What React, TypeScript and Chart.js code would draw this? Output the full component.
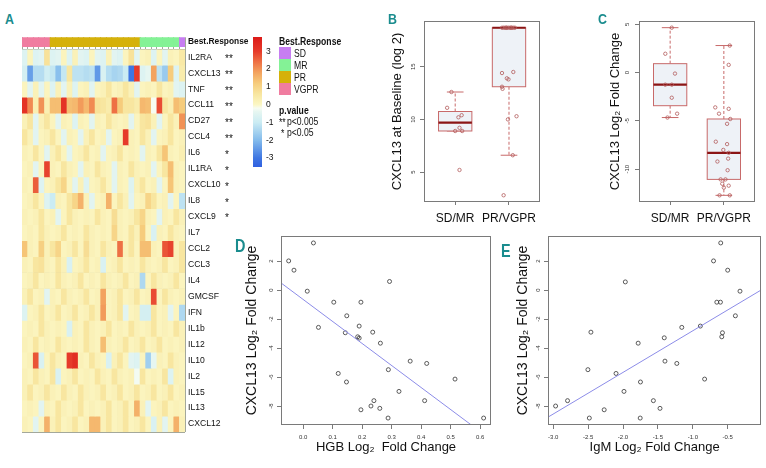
import React, { useEffect, useRef } from 'react';
import { Chart, registerables } from 'chart.js';

Chart.register(...registerables);

const SANS = "'Liberation Sans', Arial, Helvetica, sans-serif";
const TEAL = '#1a8c8e';
const FRAME = '#7a7a7a';
const GRID = '#a3a89b';
const BOX_POINT = '#b35c5c';

// ---------------- Panel A : heatmap ----------------
const cytokines = ['IL2RA', 'CXCL13', 'TNF', 'CCL11', 'CD27', 'CCL4', 'IL6', 'IL1RA', 'CXCL10', 'IL8', 'CXCL9', 'IL7',
  'CCL2', 'CCL3', 'IL4', 'GMCSF', 'IFN', 'IL1b', 'IL12', 'IL10', 'IL2', 'IL15', 'IL13', 'CXCL12'];
const significance = ['**', '**', '**', '**', '**', '**', '*', '*', '*', '*', '*', '', '', '', '', '', '', '', '', '', '', '', '', ''];
const responseLevels = ['SD', 'MR', 'PR', 'VGPR'];
const responseColors: Record<string, string> = { SD: '#c77df2', MR: '#84f296', PR: '#d5b10a', VGPR: '#f07ca0' };
const columnResponse = [
  'VGPR', 'VGPR', 'VGPR', 'VGPR', 'VGPR',
  'PR', 'PR', 'PR', 'PR', 'PR', 'PR', 'PR', 'PR', 'PR', 'PR', 'PR', 'PR', 'PR', 'PR', 'PR', 'PR',
  'MR', 'MR', 'MR', 'MR', 'MR', 'MR', 'MR',
  'SD',
];
const cytokineZ: number[][] = [
  [-0.6, 0.1, -0.6, -0.5, 0.7, -0.6, -0.5, 0.1, -0.6, 0.2, -0.5, -0.6, 0.1, -0.5, -0.6, 0.2, -0.5, -0.6, 0.1, 0.7, -0.5, 0.1, 0.2, -0.6, 0.1, -0.5, 0.2, 0.1, 0.5],
  [-0.8, -2.4, -1.3, -1.3, -0.9, -1.1, -1.9, -1.1, 0.6, -1.2, -1.2, -1.3, -1.2, -2.5, -0.7, -1.3, -1.5, -1.4, -1.0, -3.0, 3.0, -0.6, -0.4, 1.8, -1.2, -1.7, 1.2, -0.6, 0.4],
  [0.1, -0.5, 0.2, -0.5, 0.1, -0.6, 0.2, -0.5, 0.2, -0.6, 0.1, 0.2, -0.5, 0.1, 0.2, 0.6, 0.1, 0.2, 0.6, 0.2, -0.5, 0.1, 0.2, 0.1, 0.6, 0.1, 0.2, -0.5, -0.6],
  [3.2, 2.1, 0.3, 2.0, 0.3, 1.4, 1.4, 3.2, 1.4, 1.5, 1.9, 1.5, 2.1, 0.7, 0.6, 0.4, 2.4, 1.2, 0.6, 0.6, 0.4, 1.5, 1.4, -0.2, 2.8, 0.6, 0.3, 1.4, 1.2],
  [0.2, 0.6, -0.5, 0.2, 0.6, 0.1, -0.5, 0.2, 0.1, -0.6, 0.2, 0.1, -0.5, 0.2, 0.1, 0.6, 0.2, 0.1, 0.2, -0.5, 0.1, 0.6, 0.7, 0.2, -0.5, 0.1, 0.6, 0.2, 2.0],
  [0.6, 0.2, -0.5, 0.1, 0.2, 0.6, 0.1, -0.5, 0.2, 0.1, -0.5, 0.2, 0.6, 0.1, 0.2, -0.5, 0.1, 0.2, 3.0, 0.2, 0.1, 0.6, 0.2, -0.5, 0.1, 0.2, 0.6, 0.1, 0.2],
  [0.2, 0.1, 0.6, 0.1, -0.5, 0.2, 0.6, 0.1, -0.5, 0.1, 0.2, 0.6, 0.1, 0.2, -0.5, 0.1, 0.2, 0.6, 0.1, 0.2, 0.1, -0.5, 0.2, 0.1, 0.6, 1.3, 0.2, 0.1, 0.3],
  [0.1, 0.2, -0.5, 0.1, 2.9, 0.2, 0.1, 0.6, 0.2, 0.1, -0.5, 0.2, 0.1, 0.6, 0.2, 0.1, -0.5, 0.2, 0.1, 0.6, 0.2, 0.1, 0.2, -0.5, 0.1, 0.6, 1.4, 0.2, 0.1],
  [0.2, 0.1, 2.6, -0.6, 0.1, 0.2, 0.6, 1.0, 0.1, -0.5, 0.2, -0.6, 0.1, 0.2, 0.6, 0.1, -0.5, 0.2, 0.1, -0.6, 0.2, 0.6, 0.1, 0.2, -0.5, 0.1, 1.3, 0.2, 0.1],
  [0.1, 0.2, 0.6, 0.1, -0.6, -1.0, 0.2, 0.1, 0.6, 1.0, 1.6, 0.2, -0.5, 0.1, 0.2, 1.6, 0.1, 0.6, 0.2, -0.5, 0.1, 0.2, 1.0, 0.6, 0.1, 0.2, -0.5, 0.1, -1.2],
  [0.2, 0.1, 0.2, 0.6, 0.1, 0.2, -0.5, 0.1, 0.6, 0.2, 0.1, 0.2, 0.1, 0.6, 0.2, 0.1, 0.8, 0.2, 0.1, 0.2, 0.6, 1.0, 0.2, 0.1, -0.5, 0.2, 0.1, 0.6, 0.2],
  [0.1, 0.2, 0.1, 0.6, 0.2, 0.1, 0.2, 0.6, 0.1, 0.2, 0.1, 0.6, 0.2, 0.1, 0.2, 0.1, 1.0, 0.2, 0.1, 0.6, 0.2, 1.2, 0.1, -0.7, 0.2, 0.1, 0.6, 0.2, 0.1],
  [1.3, 0.2, 0.1, 1.1, 0.2, 0.6, 1.0, 0.1, 0.2, 0.6, 0.1, 0.8, 0.2, 0.1, 0.6, 0.2, 0.1, 2.4, 0.2, 0.6, 0.1, 1.4, 1.4, 0.2, 0.1, 2.7, 2.9, 0.2, 0.6],
  [0.2, 0.1, 0.6, 0.7, 0.2, 0.1, 0.6, 0.2, -0.7, 0.1, 0.2, 0.6, 0.1, 0.2, -0.7, 0.1, 0.2, 0.6, 0.1, 0.2, 0.1, 0.6, 0.2, 0.1, 0.2, 0.6, 0.1, 0.2, 0.6],
  [0.1, 0.2, 0.6, 0.1, 0.2, 0.1, 0.6, 0.2, 0.1, 0.2, 0.6, 0.1, 0.2, 0.1, 0.6, 0.2, 0.1, 0.2, 0.6, 0.1, 0.2, -1.4, 0.1, 0.6, 0.2, 0.1, 0.2, 0.6, 0.1],
  [0.2, 0.6, 0.1, 0.2, -0.5, 0.2, 0.1, 0.6, 0.2, 0.1, 0.2, 0.6, 0.1, 0.2, 1.8, 0.1, 0.2, 0.6, 0.1, 0.2, 0.6, 0.1, 0.2, 2.8, 0.1, 0.6, 0.2, 0.1, 0.2],
  [-0.6, 0.1, 0.2, 0.6, 0.1, 0.2, 0.6, 0.1, 0.2, 0.6, 0.1, 0.2, 0.6, 0.2, 1.9, 0.1, 0.2, 0.6, -0.5, 0.1, 0.2, -0.8, -0.8, 0.6, 0.1, 0.2, -0.5, 0.1, -1.4],
  [0.1, 0.2, 0.1, 0.6, 0.2, 0.1, 0.2, 0.1, -0.7, 0.2, 0.1, 0.6, 0.2, 0.1, 0.2, 0.6, 0.1, 0.2, 0.1, 0.6, 0.2, 0.1, 0.2, 0.6, 0.1, 0.2, 0.1, 0.6, 0.2],
  [0.2, 0.1, 0.6, 0.1, 0.2, 0.1, 0.6, 0.2, 0.1, 0.2, 0.1, 0.6, 0.2, 0.1, 1.4, 0.2, 0.1, 0.2, 0.6, 0.1, 0.2, 0.6, 0.1, 0.2, 0.6, 0.1, 0.2, 0.1, 0.2],
  [0.1, 0.2, 2.7, -0.7, 0.1, 0.6, 0.2, 0.1, 3.0, 3.3, 0.2, 0.1, 0.6, 0.2, 0.1, -0.7, 0.2, 0.6, 0.1, -0.5, -0.6, 0.1, -1.6, -0.4, 0.2, 0.1, 0.6, 0.2, 0.1],
  [0.2, 0.1, 0.6, 0.2, 0.1, 0.6, -0.7, 0.1, 0.2, 0.6, 0.1, 0.2, 0.1, 0.6, 0.2, 0.1, 0.6, 0.2, 0.1, 0.2, -0.25, 0.6, 0.1, 0.2, 0.1, 0.6, -0.6, 0.2, 0.1],
  [0.2, 0.6, 0.1, 0.2, 0.6, 0.2, 0.1, 0.6, 0.2, 0.1, 0.6, 0.2, 0.1, 0.2, 0.6, 0.1, 0.2, 0.6, 0.1, 0.2, 0.6, 0.1, 0.2, 0.6, 0.1, 0.2, 0.6, 0.1, 0.2],
  [0.1, 0.2, 0.1, -0.5, 0.2, 0.1, 0.6, 0.2, 0.1, 0.2, 0.6, 0.1, 0.2, 0.1, 0.2, 0.6, 0.1, 0.2, 0.6, 0.1, 1.6, 0.2, -0.5, 0.1, 0.2, 0.6, 0.1, 0.2, 0.1],
  [0.2, 0.1, -0.5, 0.1, 1.6, 0.2, 0.6, 0.1, 0.2, 0.6, 0.1, 0.2, 1.5, 1.5, 0.2, 0.6, 0.1, 0.2, 0.6, 0.1, 0.2, 0.6, 0.1, -0.7, 0.2, -0.5, 0.1, 1.6, 0.2],
];
const keyTicks = [-3, -2, -1, 0, 1, 2, 3];
const keyRange = [-3.5, 3.8];

// ---------------- Panel B : baseline CXCL13 ----------------
const groupNames = ['SD/MR', 'PR/VGPR'];
const baselineSDMR = [12.6, 11.1, 10.4, 10.2, 9.2, 8.9, 8.9, 5.2];
const baselineSDMRx = [0.93, 0.85, 1.12, 1.06, 1.08, 1.0, 1.13, 1.08];
const baselinePRVGPR = [18.7, 18.7, 18.7, 18.7, 18.7, 18.7, 18.7, 18.7, 18.7, 18.7, 18.7, 14.5, 14.4, 13.9, 13.8, 13.1, 12.9, 10.3, 10.0, 6.6, 2.8];
const baselinePRVGPRx = [1.87, 1.9, 1.93, 1.96, 1.99, 2.02, 2.05, 2.08, 2.11, 1.95, 2.04, 2.08, 1.87, 1.96, 1.99, 1.87, 1.88, 2.14, 1.98, 2.07, 1.9];
const baselineTicks = [5, 10, 15];

// ---------------- Panel C : CXCL13 fold change ----------------
const foldSDMR = [4.65, 1.95, -0.1, -1.25, -1.25, -2.6, -4.25, -4.65];
const foldSDMRx = [1.03, 0.91, 1.09, 0.91, 1.03, 1.03, 1.13, 0.95];
const foldPRVGPR = [2.8, 0.8, -3.6, -3.75, -4.25, -4.8, -5.3, -7.15, -7.4, -8.0, -8.3, -8.9, -9.2, -10.1, -11.05, -11.05, -11.5, -11.7, -11.9, -12.7, -12.7];
const foldPRVGPRx = [2.11, 2.09, 1.84, 2.09, 1.91, 2.12, 2.06, 1.85, 2.06, 1.99, 2.09, 2.08, 1.88, 2.07, 1.94, 2.03, 1.97, 2.09, 2.0, 1.92, 2.11];
const foldTicks = [-10, -5, 0, 5];

// ---------------- Panel D : HGB vs CXCL13 ----------------
const hgbFold = [0.035, -0.049, -0.031, 0.014, 0.293, 0.104, 0.196, 0.148, 0.052, 0.19, 0.143, 0.236, 0.185, 0.19, 0.262,
  0.363, 0.419, 0.289, 0.119, 0.147, 0.515, 0.325, 0.24, 0.23, 0.412, 0.26, 0.196, 0.288, 0.612];
const cxclFoldD = [3.26, 2.02, 1.38, -0.07, 0.6, -0.83, -0.83, -1.77, -2.57, -2.48, -2.94, -2.9, -3.22, -3.31, -3.66,
  -4.9, -5.06, -5.49, -5.75, -6.34, -6.14, -6.99, -7.63, -8.0, -7.63, -8.16, -8.26, -8.83, -8.83];
const hgbTicks = [0, 0.1, 0.2, 0.3, 0.4, 0.5, 0.6];
const fitD = { slope: -15.2, intercept: -0.64 };

// ---------------- Panel E : IgM vs CXCL13 ----------------
const igmFold = [-0.6, -0.703, -0.5, -1.967, -0.324, -0.656, -0.604, -0.39, -1.158, -0.892, -2.46, -0.575, -1.409, -0.585, -1.783,
  -1.399, -1.229, -2.503, -2.1, -1.75, -0.831, -1.986, -2.966, -2.795, -1.565, -2.27, -1.47, -2.483, -1.754];
const cxclFoldE = [3.26, 2.02, 1.38, 0.57, -0.07, -0.83, -0.83, -1.77, -2.57, -2.48, -2.9, -2.94, -3.29, -3.22, -3.66,
  -4.9, -5.06, -5.49, -5.75, -6.34, -6.14, -6.99, -8.0, -7.63, -7.63, -8.26, -8.16, -8.83, -8.83];
const igmTicks = [-3, -2.5, -2, -1.5, -1, -0.5];
const fitE = { slope: 2.874, intercept: 0.07 };
const cxclTicks = [-8, -6, -4, -2, 0, 2];

// ---------------- colour map ----------------
const zStops: [number, string][] = [
  [-3.5, '#3060e0'], [-3, '#3e76e2'], [-2, '#83bbec'], [-1, '#cbecf3'], [-0.4, '#e6f6f1'], [-0.2, '#f7fcf2'],
  [0, '#fbf7c4'], [0.6, '#f8e6a0'], [1.2, '#f6cc7c'], [1.8, '#f3a35f'], [2.4, '#ee7044'], [3.0, '#e63a2a'], [3.8, '#dc1a18'],
];
function hexRgb(h: string) {
  return [parseInt(h.slice(1, 3), 16), parseInt(h.slice(3, 5), 16), parseInt(h.slice(5, 7), 16)];
}
function zColor(v: number) {
  if (v <= zStops[0][0]) return zStops[0][1];
  for (let i = 1; i < zStops.length; i++) {
    if (v <= zStops[i][0]) {
      const [v0, c0] = zStops[i - 1];
      const [v1, c1] = zStops[i];
      const t = (v - v0) / (v1 - v0);
      const a = hexRgb(c0), b = hexRgb(c1);
      const c = a.map((x, k) => Math.round(x + (b[k] - x) * t));
      return `rgb(${c[0]},${c[1]},${c[2]})`;
    }
  }
  return zStops[zStops.length - 1][1];
}

// ---------------- helpers ----------------
function fivenum(values: number[]) {
  const x = [...values].sort((a, b) => a - b);
  const n = x.length;
  const n4 = Math.floor((n + 3) / 2) / 2;
  const d = [1, n4, (n + 1) / 2, n + 1 - n4, n];
  return d.map((k) => 0.5 * (x[Math.floor(k) - 1] + x[Math.ceil(k) - 1]));
}
function boxStats(values: number[]) {
  const f = fivenum(values);
  const q1 = f[1], med = f[2], q3 = f[3];
  const iqr = q3 - q1;
  const lo = Math.min(...values.filter((v) => v >= q1 - 1.5 * iqr));
  const hi = Math.max(...values.filter((v) => v <= q3 + 1.5 * iqr));
  return { q1, med, q3, lo, hi };
}

function makeFramePlugin() {
  return {
    id: 'frame',
    afterDatasetsDraw(chart: any) {
      const { ctx, chartArea: a } = chart;
      ctx.save();
      ctx.strokeStyle = FRAME;
      ctx.lineWidth = 1;
      ctx.strokeRect(Math.round(a.left) + 0.5, Math.round(a.top) + 0.5, Math.round(a.right - a.left) - 1, Math.round(a.bottom - a.top) - 1);
      ctx.restore();
    },
  };
}

function makeBoxPlugin(groups: { x: number; values: number[] }[]) {
  return {
    id: 'boxes',
    beforeDatasetsDraw(chart: any) {
      const { ctx } = chart;
      const xs = chart.scales.x;
      const ys = chart.scales.y;
      ctx.save();
      groups.forEach((g) => {
        const s = boxStats(g.values);
        const cx = xs.getPixelForValue(g.x);
        const hw = xs.getPixelForValue(g.x + 0.31) - cx;
        const pq1 = ys.getPixelForValue(s.q1);
        const pq3 = ys.getPixelForValue(s.q3);
        const pmed = ys.getPixelForValue(s.med);
        const plo = ys.getPixelForValue(s.lo);
        const phi = ys.getPixelForValue(s.hi);
        ctx.strokeStyle = '#c86a6a';
        ctx.lineWidth = 1;
        ctx.setLineDash([3, 2]);
        ctx.beginPath();
        ctx.moveTo(cx, pq3); ctx.lineTo(cx, phi);
        ctx.moveTo(cx, pq1); ctx.lineTo(cx, plo);
        ctx.stroke();
        ctx.setLineDash([]);
        ctx.beginPath();
        ctx.moveTo(cx - hw / 2, phi); ctx.lineTo(cx + hw / 2, phi);
        ctx.moveTo(cx - hw / 2, plo); ctx.lineTo(cx + hw / 2, plo);
        ctx.stroke();
        ctx.fillStyle = '#eef2f7';
        ctx.fillRect(cx - hw, pq3, 2 * hw, pq1 - pq3);
        ctx.strokeRect(cx - hw, pq3, 2 * hw, pq1 - pq3);
        ctx.strokeStyle = '#8b1515';
        ctx.lineWidth = 2.2;
        ctx.beginPath();
        ctx.moveTo(cx - hw, pmed); ctx.lineTo(cx + hw, pmed);
        ctx.stroke();
      });
      ctx.restore();
    },
  };
}

// significance stars drawn beside each heatmap row, positioned by the row scale
function makeStarsPlugin() {
  return {
    id: 'stars',
    afterDraw(chart: any) {
      const { ctx, chartArea } = chart;
      const y = chart.scales.y;
      ctx.save();
      ctx.fillStyle = '#111';
      ctx.font = `10px ${SANS}`;
      ctx.textAlign = 'left';
      ctx.textBaseline = 'middle';
      significance.forEach((s, i) => {
        if (!s) return;
        ctx.fillText(s, chartArea.right + 40, y.getPixelForValue(i + 0.5) + 2);
      });
      ctx.restore();
    },
  };
}

const smallTick = { family: SANS, size: 6 };
const noVPad = (s: any) => { s.paddingTop = 0; s.paddingBottom = 0; };

function heatmapConfig(): any {
  const HEAT_MIN = -0.75, GAP = 0.16, ANNOT = 0.59;
  const labels = columnResponse.map((_, i) => String(i + 1));
  const datasets: any[] = [
    { data: labels.map(() => -GAP), backgroundColor: 'rgba(0,0,0,0)' },
    { data: labels.map(() => -ANNOT), backgroundColor: columnResponse.map((r) => responseColors[r]) },
    ...cytokines.map((name, r) => ({ label: name, data: labels.map(() => 1), backgroundColor: cytokineZ[r].map(zColor) })),
  ];
  datasets.forEach((d) => Object.assign(d, { barPercentage: 1, categoryPercentage: 1, borderWidth: 0, xAxisID: 'x', yAxisID: 'y' }));
  const rowTicks = [-(GAP + ANNOT / 2), ...cytokines.map((_, i) => i + 0.5)];
  const n = cytokines.length;
  return {
    type: 'bar',
    data: { labels, datasets },
    options: {
      responsive: false, animation: false, events: [],
      layout: { padding: { left: 22, top: 7.3, right: 5, bottom: 10 } },
      plugins: { legend: { display: false }, tooltip: { enabled: false } },
      scales: {
        x: {
          type: 'category', stacked: true, z: 1,
          grid: { color: GRID, lineWidth: 1, drawTicks: false, offset: true },
          border: { display: false }, ticks: { display: false },
          afterFit: (s: any) => { s.height = 0; s.paddingLeft = 0; s.paddingRight = 0; },
        },
        y: {
          type: 'linear', stacked: true, reverse: true, min: HEAT_MIN, max: n, z: 1, position: 'left',
          grid: { color: GRID, lineWidth: 1, drawTicks: false },
          border: { display: false }, ticks: { display: false },
          afterBuildTicks: (s: any) => { s.ticks = Array.from({ length: n + 1 }, (_, i) => ({ value: i })); },
          afterFit: (s: any) => { s.width = 0; noVPad(s); },
        },
        yl: {
          type: 'linear', position: 'right', reverse: true, min: HEAT_MIN, max: n, weight: 0,
          grid: { display: false, drawTicks: false }, border: { display: false },
          ticks: {
            autoSkip: false, padding: 3, color: '#111',
            font: (ctx: any) => (ctx.index === 0 ? { family: SANS, size: 8.4, weight: 'bold' } : { family: SANS, size: 8.6 }),
            callback: (_v: any, i: number) => (i === 0 ? 'Best.Response' : cytokines[i - 1]),
          },
          afterBuildTicks: (s: any) => { s.ticks = rowTicks.map((v) => ({ value: v })); },
          afterFit: (s: any) => { s.width = 65; noVPad(s); },
        },
      },
    },
    plugins: [makeStarsPlugin()],
  };
}

function keyConfig(): any {
  return {
    type: 'bar',
    data: {
      labels: ['key'],
      datasets: [{
        data: [[keyRange[0], keyRange[1]]],
        barPercentage: 1, categoryPercentage: 1, borderWidth: 0,
        backgroundColor: (ctx: any) => {
          const chart = ctx.chart;
          if (!chart.chartArea) return '#fff';
          const y = chart.scales.y;
          const y0 = y.getPixelForValue(keyRange[0]);
          const y1 = y.getPixelForValue(keyRange[1]);
          const g = chart.ctx.createLinearGradient(0, y0, 0, y1);
          zStops.forEach(([v, c]) => g.addColorStop((v - keyRange[0]) / (keyRange[1] - keyRange[0]), c));
          return g;
        },
      }],
    },
    options: {
      responsive: false, animation: false, events: [],
      layout: { padding: { left: 13, top: 7, right: 0, bottom: 13 } },
      plugins: { legend: { display: false }, tooltip: { enabled: false } },
      scales: {
        x: { display: false },
        y: {
          position: 'right', min: keyRange[0], max: keyRange[1],
          grid: { display: false, drawTicks: false }, border: { display: false },
          ticks: { padding: 4, color: '#111', font: { family: SANS, size: 8.5 }, callback: (v: any) => String(v) },
          afterBuildTicks: (s: any) => { s.ticks = keyTicks.map((v) => ({ value: v })); },
          afterFit: (s: any) => { s.width = 28; noVPad(s); },
        },
      },
    },
  };
}

function boxPanelConfig(p: any): any {
  const datasets = p.groups.map((g: any) => ({
    data: g.values.map((v: number, i: number) => ({ x: g.xs[i], y: v })),
    pointRadius: 1.7, pointBorderWidth: 0.8, pointBorderColor: BOX_POINT, pointBackgroundColor: 'rgba(0,0,0,0)', showLine: false,
  }));
  return {
    type: 'scatter',
    data: { datasets },
    options: {
      responsive: false, animation: false, events: [],
      layout: { padding: p.padding },
      plugins: { legend: { display: false }, tooltip: { enabled: false } },
      scales: {
        x: {
          type: 'linear', min: 0.42, max: 2.58,
          afterBuildTicks: (s: any) => { s.ticks = [{ value: 1 }, { value: 2 }]; },
          ticks: { callback: (_v: any, i: number) => groupNames[i], font: { family: SANS, size: 12 }, color: '#111', padding: 6.8, maxRotation: 0, minRotation: 0, autoSkip: false },
          grid: { drawOnChartArea: false, drawTicks: true, tickLength: 3, color: FRAME },
          border: { display: false },
          afterFit: (s: any) => { s.height = p.xHeight; s.paddingLeft = 0; s.paddingRight = 0; },
        },
        y: {
          type: 'linear', min: p.yMin, max: p.yMax,
          afterBuildTicks: (s: any) => { s.ticks = p.yTicks.map((v: number) => ({ value: v })); },
          ticks: { minRotation: 90, maxRotation: 90, crossAlign: 'center', padding: 3, font: smallTick, color: '#333', callback: (v: any) => String(v) },
          grid: { drawOnChartArea: false, drawTicks: true, tickLength: 4, color: FRAME },
          border: { display: false },
          title: { display: true, text: p.yTitle, font: { family: SANS, size: 13 }, color: '#111', padding: 0 },
          afterFit: (s: any) => { s.width = p.yWidth; noVPad(s); },
        },
      },
    },
    plugins: [makeBoxPlugin(p.groups.map((g: any, i: number) => ({ x: i + 1, values: g.values }))), makeFramePlugin()],
  };
}

function scatterPanelConfig(p: any): any {
  const fitY = (x: number) => p.fit.intercept + p.fit.slope * x;
  return {
    type: 'scatter',
    data: {
      datasets: [
        {
          type: 'line',
          data: [{ x: p.xMin, y: fitY(p.xMin) }, { x: p.xMax, y: fitY(p.xMax) }],
          borderColor: '#8c8ce8', borderWidth: 1, pointRadius: 0, fill: false,
        },
        {
          data: p.xs.map((x: number, i: number) => ({ x, y: p.ys[i] })),
          pointRadius: 2, pointBorderWidth: 0.8, pointBorderColor: '#333', pointBackgroundColor: 'rgba(0,0,0,0)', showLine: false,
        },
      ],
    },
    options: {
      responsive: false, animation: false, events: [],
      layout: { padding: p.padding },
      plugins: { legend: { display: false }, tooltip: { enabled: false } },
      scales: {
        x: {
          type: 'linear', min: p.xMin, max: p.xMax,
          afterBuildTicks: (s: any) => { s.ticks = p.xTicks.map((v: number) => ({ value: v })); },
          ticks: { callback: (v: any) => Number(v).toFixed(1), font: smallTick, color: '#333', padding: 4.4, maxRotation: 0, minRotation: 0, autoSkip: false },
          grid: { drawOnChartArea: false, drawTicks: true, tickLength: 4, color: FRAME },
          border: { display: false },
          title: { display: true, text: p.xTitle, font: { family: SANS, size: 13 }, color: '#111', padding: 0 },
          afterFit: (s: any) => { s.height = p.xHeight; s.paddingLeft = 0; s.paddingRight = 0; },
        },
        y: {
          type: 'linear', min: p.yMin, max: p.yMax,
          afterBuildTicks: (s: any) => { s.ticks = p.yTicks.map((v: number) => ({ value: v })); },
          ticks: { minRotation: 90, maxRotation: 90, crossAlign: 'center', padding: 3.3, font: smallTick, color: '#333', callback: (v: any) => String(v) },
          grid: { drawOnChartArea: false, drawTicks: true, tickLength: 4, color: FRAME },
          border: { display: false },
          title: { display: true, text: p.yTitle, font: { family: SANS, size: 14 }, color: '#111', padding: 0 },
          afterFit: (s: any) => { s.width = p.yWidth; noVPad(s); },
        },
      },
    },
    plugins: [makeFramePlugin()],
  };
}

const abs = (left: number, top: number): React.CSSProperties => ({ position: 'absolute', left, top });

export default function App() {
  const heatRef = useRef<HTMLCanvasElement>(null);
  const keyRef = useRef<HTMLCanvasElement>(null);
  const bRef = useRef<HTMLCanvasElement>(null);
  const cRef = useRef<HTMLCanvasElement>(null);
  const dRef = useRef<HTMLCanvasElement>(null);
  const eRef = useRef<HTMLCanvasElement>(null);

  useEffect(() => {
    const charts: Chart[] = [];
    charts.push(new Chart(heatRef.current as HTMLCanvasElement, heatmapConfig()));
    charts.push(new Chart(keyRef.current as HTMLCanvasElement, keyConfig()));
    charts.push(new Chart(bRef.current as HTMLCanvasElement, boxPanelConfig({
      groups: [{ values: baselineSDMR, xs: baselineSDMRx }, { values: baselinePRVGPR, xs: baselinePRVGPRx }],
      yMin: 2.16, yMax: 19.34, yTicks: baselineTicks, yTitle: 'CXCL13 at Baseline (log 2)',
      padding: { left: 4.2, top: 21, right: 4, bottom: 3 }, yWidth: 34.8, xHeight: 30,
    })));
    charts.push(new Chart(cRef.current as HTMLCanvasElement, boxPanelConfig({
      groups: [{ values: foldSDMR, xs: foldSDMRx }, { values: foldPRVGPR, xs: foldPRVGPRx }],
      yMin: -13.39, yMax: 5.34, yTicks: foldTicks, yTitle: 'CXCL13 Log\u2082 Fold Change',
      padding: { left: 7.2, top: 21, right: 11, bottom: 3 }, yWidth: 31.8, xHeight: 30,
    })));
    charts.push(new Chart(dRef.current as HTMLCanvasElement, scatterPanelConfig({
      xs: hgbFold, ys: cxclFoldD, fit: fitD, xMin: -0.075, xMax: 0.637, yMin: -9.31, yMax: 3.74,
      xTicks: hgbTicks, yTicks: cxclTicks, xTitle: 'HGB Log\u2082  Fold Change', yTitle: 'CXCL13 Log\u2082 Fold Change',
      padding: { left: 3.6, top: 8, right: 7, bottom: 13.2 }, yWidth: 37.4, xHeight: 29.8,
    })));
    charts.push(new Chart(eRef.current as HTMLCanvasElement, scatterPanelConfig({
      xs: igmFold, ys: cxclFoldE, fit: fitE, xMin: -3.075, xMax: -0.02, yMin: -9.31, yMax: 3.74,
      xTicks: igmTicks, yTicks: cxclTicks, xTitle: 'IgM Log\u2082 Fold Change', yTitle: 'CXCL13 Log\u2082 Fold Change',
      padding: { left: 9.6, top: 8, right: 3, bottom: 13.2 }, yWidth: 33.4, xHeight: 29.8,
    })));
    return () => charts.forEach((c) => c.destroy());
  }, []);

  const letter = (t: string, left: number, top: number, size: number) => (
    <div style={{ ...abs(left, top), color: TEAL, font: `bold ${size}px ${SANS}`, lineHeight: 1, transform: 'scaleX(0.8)', transformOrigin: 'left top' }}>{t}</div>
  );
  const txt = (t: string, left: number, top: number, bold = false) => (
    <div style={{ ...abs(left, top), color: '#111', font: `${bold ? 'bold ' : ''}10.5px ${SANS}`, lineHeight: '12px', whiteSpace: 'nowrap', transform: 'scaleX(0.82)', transformOrigin: 'left top' }}>{t}</div>
  );

  return (
    <div style={{ position: 'fixed', left: 0, top: 0, width: 766, height: 468, background: '#fff', overflow: 'hidden' }}>
      <canvas ref={heatRef} width={255} height={412} style={abs(0, 30)} />
      <canvas ref={keyRef} width={50} height={150} style={abs(240, 30)} />
      <canvas ref={bRef} width={160} height={235} style={abs(385, 0)} />
      <canvas ref={cRef} width={166} height={235} style={abs(600, 0)} />
      <canvas ref={dRef} width={258} height={240} style={abs(240, 228)} />
      <canvas ref={eRef} width={261} height={240} style={abs(505, 228)} />
      {txt('Best.Response', 279, 35, true)}
      {responseLevels.map((r, i) => (
        <React.Fragment key={r}>
          <div style={{ ...abs(279, 47 + i * 12), width: 12, height: 12, background: responseColors[r] }} />
          {txt(r, 294, 47 + i * 12)}
        </React.Fragment>
      ))}
      {txt('p.value', 279, 104, true)}
      {txt('**', 279, 116)}
      {txt('p<0.005', 287, 115)}
      {txt('*', 280.5, 127)}
      {txt('p<0.05', 287, 126)}
      {letter('A', 5, 11, 15.5)}
      {letter('B', 388, 11, 15.5)}
      {letter('C', 598, 11, 15.5)}
      {letter('D', 235, 237, 18)}
      {letter('E', 501, 242, 18)}
    </div>
  );
}
